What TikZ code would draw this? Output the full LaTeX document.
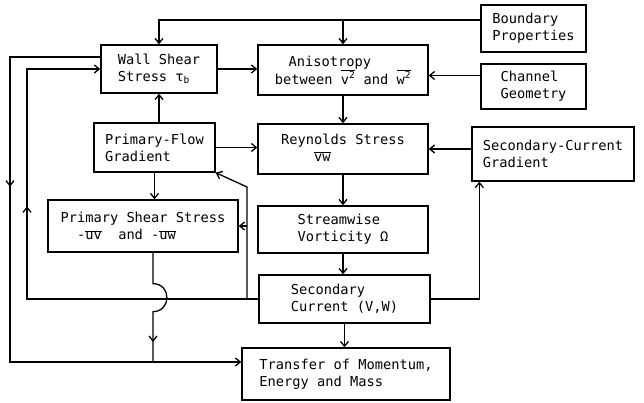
\documentclass[tikz,border=0pt]{standalone}
\usepackage{fontspec}
\setmonofont{DejaVu Sans Mono}
\usetikzlibrary{arrows.meta,decorations.markings}
\newcommand{\ovl}[1]{$\overline{\hbox{#1}}$}

\begin{document}
\begin{tikzpicture}[x=1pt, y=-1pt, line width=1.3pt,
  >={Straight Barb[length=5pt,width=8pt]},
  blk/.style 2 args={draw, inner sep=0pt, align=left, minimum width=#1, minimum height=#2,
    font=\ttfamily\fontsize{13.7}{17}\selectfont},
  midarrow/.style={postaction={decorate},
    decoration={markings, mark=at position #1 with {\arrow{>}}}}]
\useasboundingbox (0,0) rectangle (644,403);

% boxes
\node[blk={116pt}{48pt}] (ws) at (159,69) {Wall Shear\\Stress τ\textsubscript{b}};
\node[blk={170pt}{50pt}] (aniso) at (343,70) {\hspace*{1em}Anisotropy\\between \ovl{v\textsuperscript{2}} and \ovl{w\textsuperscript{2}}};
\node[blk={105pt}{47pt}] (bound) at (533.5,28.5) {Boundary\\Properties};
\node[blk={105pt}{45pt}] (chan) at (533.5,86.5) {Channel\\Geometry};
\node[blk={121pt}{49pt}] (pfg) at (154.5,147.5) {Primary-Flow\\Gradient};
\node[blk={170pt}{50pt}] (rey) at (343,149) {Reynolds Stress\\\phantom{Reyn}\ovl{vw}};
\node[blk={162pt}{54pt}] (scg) at (553,154) {Secondary-Current\\Gradient};
\node[blk={190pt}{52pt}] (pss) at (143,226) {Primary Shear Stress\\\phantom{Pr}-\ovl{uv}\phantom{--}and -\ovl{uw}};
\node[blk={170pt}{47pt}] (vort) at (343,229.5) {Streamwise\\Vorticity Ω};
\node[blk={171pt}{48pt}] (sc) at (344.5,299) {Secondary\\Current (V,W)};
\node[blk={208pt}{52pt}] (tr) at (346,374) {Transfer of Momentum,\\Energy and Mass};

% free ends of the side lines
\coordinate (toprail) at ([yshift=8.5pt]bound.west);
\coordinate (lanea) at (10,0);
\coordinate (laneb) at (27,0);
\coordinate (bend) at (247,187);
\coordinate (jn) at (153,362);

% main chain
\draw[->] (toprail) -| (ws.north);
\draw[->] (toprail -| aniso.north) -- (aniso.north);
\draw[->] (ws.east) -- (ws.east -| aniso.west);
\draw[->] ([yshift=11pt]chan.west) -- ([yshift=11pt]chan.west -| aniso.east);
\draw[->] (aniso.south) -- (rey.north);
\draw[->] (pfg.north -| ws.south) -- (ws.south);
\draw[->] (pfg.east) -- (pfg.east -| rey.west);
\draw[->] (pfg.south) -- (pfg.south |- pss.north);
\draw[->] (scg.west |- rey.east) -- (rey.east);
\draw[->] (rey.south) -- (vort.north);
\draw[->] (vort.south) -- (vort.south |- sc.north);
\draw[->] (sc.south) -- (sc.south |- tr.north);
\draw[->] (sc.east) -| ([xshift=8pt]scg.south west);

% feedback lines
\draw[->, midarrow=324pt] (sc.west) -- (sc.west -| laneb) |- (ws.west);
\draw[->] (sc.west -| bend) -- (bend) -- (pfg.south east);
\draw[->] (pss.east -| bend) -- (pss.east);
\draw[->, midarrow=220pt] ([yshift=12pt]ws.west) -- ([yshift=12pt]ws.west -| lanea) |- ([yshift=12pt]tr.west);
\draw[midarrow=-20pt] (pss.south -| jn) -- ++(0,31) to[out=0, in=0, looseness=1.7] ++(0,28) -- (jn);

\end{tikzpicture}
\end{document}
